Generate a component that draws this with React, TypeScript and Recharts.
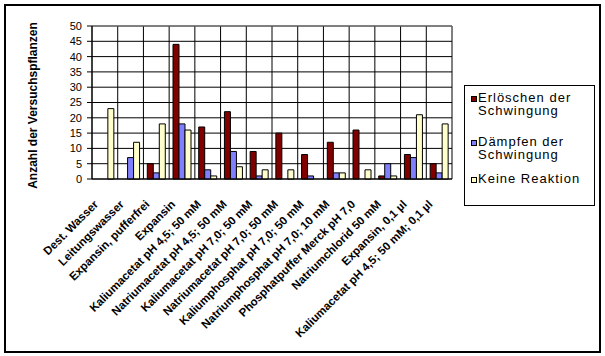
import React from 'react';
import { BarChart, Bar, XAxis, YAxis, CartesianGrid, ReferenceLine, Legend, Label } from 'recharts';

const categories = [
  'Dest. Wasser',
  'Leitungswasser',
  'Expansin, pufferfrei',
  'Expansin',
  'Kaliumacetat pH 4,5; 50 mM',
  'Natriumacetat pH 4,5; 50 mM',
  'Kaliumacetat pH 7,0; 50 mM',
  'Natriumacetat pH 7,0; 50 mM',
  'Kaliumphosphat pH 7,0; 50 mM',
  'Natriumphosphat pH 7,0; 10 mM',
  'Phosphatpuffer Merck pH 7,0',
  'Natriumchlorid 50 mM',
  'Expansin, 0,1 µl',
  'Kaliumacetat pH 4,5; 50 mM; 0,1 µl',
];

const erloeschen = [0, 0, 5, 44, 17, 22, 9, 15, 8, 12, 16, 1, 8, 5];
const daempfen = [0, 7, 2, 18, 3, 9, 1, 0, 1, 2, 0, 5, 7, 2];
const keineReaktion = [23, 12, 18, 16, 1, 4, 3, 3, 0, 2, 3, 1, 21, 18];

const seriesNames = ['Erlöschen der Schwingung', 'Dämpfen der Schwingung', 'Keine Reaktion'];
const seriesKeys = ['e', 'd', 'k'];
const seriesColors = ['#800000', '#8080FF', '#FFFFCC'];

const yTicks = [0, 5, 10, 15, 20, 25, 30, 35, 40, 45, 50];
const yTitle = 'Anzahl der Versuchspflanzen';

const FONT = '"Liberation Sans", Arial, sans-serif';

const data = categories.map((name, i) => ({
  name,
  e: erloeschen[i],
  d: daempfen[i],
  k: keineReaktion[i],
}));

const boundaryTicks = Array.from({ length: categories.length + 1 }, (_, i) => i);

const CatTick = (props: any) => {
  const { x, y, payload } = props;
  return (
    <g transform={`translate(${x - 6},${y + 18}) rotate(-45)`}>
      <text x={0} y={0} textAnchor="end" fontFamily={FONT} fontSize={11.5} fontWeight="bold" fill="#000">
        {payload.value}
      </text>
    </g>
  );
};

const YTitle = (props: any) => {
  const { viewBox } = props;
  const cx = viewBox.x + 17;
  const cy = viewBox.y + viewBox.height / 2 + 3;
  return (
    <text x={cx} y={cy} transform={`rotate(-90, ${cx}, ${cy})`} textAnchor="middle" fontFamily={FONT} fontSize={12} fontWeight="bold" fill="#000">
      {yTitle}
    </text>
  );
};

const legendTops = [6, 50, 87];

const renderLegend = () => (
  <div
    style={{
      boxSizing: 'border-box',
      width: 131,
      height: 121,
      border: '1px solid #000',
      background: '#fff',
      position: 'relative',
      fontFamily: FONT,
      fontSize: 13,
      lineHeight: '12.5px',
      letterSpacing: '1px',
      color: '#000',
    }}
  >
    {seriesNames.map((n, i) => (
      <div key={n} style={{ position: 'absolute', left: 6, top: legendTops[i], display: 'flex', alignItems: 'flex-start' }}>
        <span
          style={{
            display: 'block',
            width: 6,
            height: 6,
            marginTop: 4,
            border: '1px solid #000',
            background: seriesColors[i],
            boxSizing: 'border-box',
            flex: 'none',
          }}
        />
        <span style={{ display: 'block', marginLeft: 1, width: 112 }}>{n}</span>
      </div>
    ))}
  </div>
);

const verticalBoundaries = ({ offset }: any) =>
  boundaryTicks.map((i) => offset.left + (i * offset.width) / categories.length);

export default function App() {
  return (
    <div style={{ position: 'absolute', left: 0, top: 0, width: 605, height: 356, background: '#fff' }}>
      <div
        style={{
          position: 'absolute',
          left: 4,
          top: 4,
          width: 597,
          height: 349,
          border: '2px solid #000',
          boxSizing: 'border-box',
        }}
      />
      <BarChart
        width={605}
        height={356}
        data={data}
        margin={{ top: 26, right: 153, bottom: 175, left: 20 }}
        barCategoryGap="15%"
        barGap={0}
      >
        <XAxis
          xAxisId="cat"
          dataKey="name"
          height={1}
          interval={0}
          tickLine={false}
          axisLine={{ stroke: '#000' }}
          tick={<CatTick />}
        />
        <XAxis
          xAxisId="grid"
          type="number"
          domain={[0, categories.length]}
          ticks={boundaryTicks}
          allowDataOverflow
          interval={0}
          height={1}
          tick={false}
          tickSize={5}
          tickLine={{ stroke: '#000' }}
          axisLine={false}
        />
        <YAxis
          width={72}
          domain={[0, 50]}
          ticks={yTicks}
          interval={0}
          tickSize={5}
          tickMargin={5}
          tickLine={{ stroke: '#000' }}
          axisLine={{ stroke: '#000' }}
          tick={{ fill: '#000', fontFamily: FONT, fontSize: 11 }}
        >
          <Label content={<YTitle />} />
        </YAxis>
        <CartesianGrid
          xAxisId="grid"
          stroke="#000"
          strokeWidth={1}
          verticalCoordinatesGenerator={verticalBoundaries}
        />
        <ReferenceLine y={50} stroke="#808080" strokeWidth={1} />
        <ReferenceLine xAxisId="grid" x={categories.length} stroke="#808080" strokeWidth={1} />
        {seriesKeys.map((k, i) => (
          <Bar
            key={k}
            xAxisId="cat"
            dataKey={k}
            name={seriesNames[i]}
            fill={seriesColors[i]}
            stroke="#000"
            strokeWidth={1}
            isAnimationActive={false}
          />
        ))}
        <Legend
          layout="horizontal"
          verticalAlign="middle"
          align="center"
          content={renderLegend}
          wrapperStyle={{ left: 464, top: 85, width: 131, height: 121 }}
        />
      </BarChart>
    </div>
  );
}
